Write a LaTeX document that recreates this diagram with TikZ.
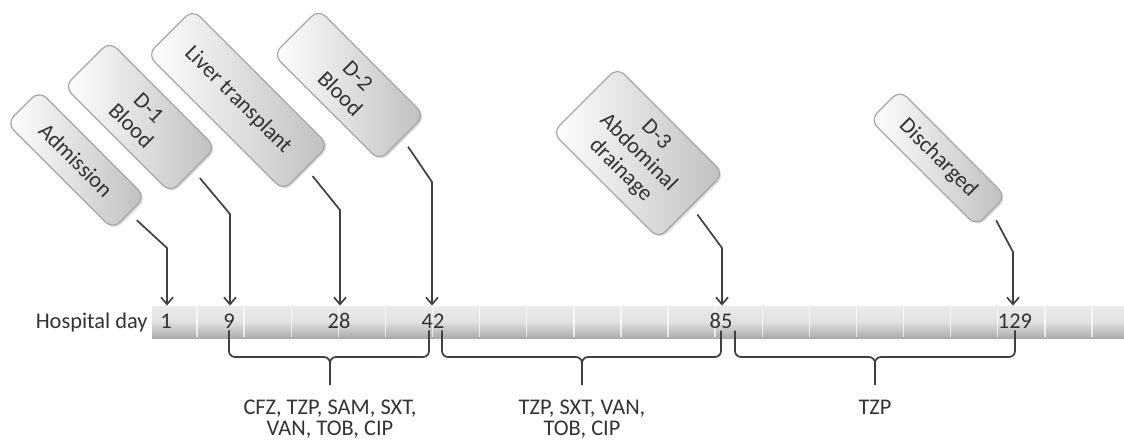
\documentclass[tikz,border=0pt]{standalone}
\usepackage{fontspec}
\setmainfont{Carlito}
\usetikzlibrary{arrows.meta, shadows}

\begin{document}
\begin{tikzpicture}[
        x=0.5pt, y=-0.5pt,
        font=\fontsize{11.2}{10.5}\selectfont,
        >={Straight Barb[length=3.5pt, width=6pt]},
        event/.style={
            rectangle, rounded corners=5pt, draw=black!35, line width=0.6pt,
            left color=white, right color=black!25,
            drop shadow={shadow xshift=0.8pt, shadow yshift=-0.8pt, opacity=0.3},
            rotate=-45, align=center, text=black!80,
            font=\fontsize{11.2}{12.5}\selectfont,
            minimum width=75pt, inner sep=2pt
        },
        link/.style={->, line width=0.85pt, draw=black!75, shorten <=5pt},
        brace/.style={line width=0.85pt, draw=black!75, rounded corners=3pt},
        day/.style={text=black!80, inner sep=1pt, anchor=base},
        drugs/.style={align=center, text=black!80, anchor=north, inner xsep=2pt, inner ysep=7.5pt},
        bar/.style={
            rectangle, minimum width=486pt, minimum height=16pt, inner sep=0pt,
            top color=black!8, bottom color=black!33, middle color=black!12
        },
        sep/.style={draw=white, line width=0.7pt, opacity=0.7}
    ]

    \useasboundingbox (0,0) rectangle (1124,440);

    % --- Timeline ---
    \node[bar] (bar) at (638,322) {};
    \foreach \k in {0,...,19}
        \draw[sep] (197+47.1*\k,307) -- ++(0,30);

    \node[day, anchor=base east] (hday) at (150,328) {Hospital day};
    \node[day] (d1) at (166,328) {1};
    \node[day] (d9) at (229,328) {9};
    \node[day] (d28) at (339,328) {28};
    \node[day] (d42) at (433,328) {42};
    \node[day] (d85) at (721,328) {85};
    \node[day] (d129) at (1015,328) {129};

    % --- Events ---
    \node[event, minimum height=23pt] (admission) at (76,160) {Admission};
    \node[event, minimum height=32pt] (blood1) at (140,117) {D-1\\Blood};
    \node[event, minimum height=32pt, minimum width=96pt] (liver) at (238,100) {Liver transplant};
    \node[event, minimum height=32pt] (blood2) at (349,85) {D-2\\Blood};
    \node[event, minimum height=46pt] (drain) at (638,153) {D-3\\Abdominal\\drainage};
    \node[event, minimum height=21pt] (discharge) at (938,158) {Discharged};

    \coordinate (k1) at (167,248);
    \coordinate (k2) at (230,214);
    \coordinate (k3) at (340,210);
    \coordinate (k4) at (432,182);
    \coordinate (k5) at (722,248);
    \coordinate (k6) at (1013,252);

    \draw[link] (admission.east) -- (k1) -- (k1 |- bar.north);
    \draw[link] (blood1.east) -- (k2) -- (k2 |- bar.north);
    \draw[link] (liver.east) -- (k3) -- (k3 |- bar.north);
    \draw[link] (blood2.east) -- (k4) -- (k4 |- bar.north);
    \draw[link] (drain.east) -- (k5) -- (k5 |- bar.north);
    \draw[link] (discharge.east) -- (k6) -- (k6 |- bar.north);

    % --- Antibiotics ---
    \node[drugs] (drugsA) at (330,385) {CFZ, TZP, SAM, SXT,\\VAN, TOB, CIP};
    \node[drugs] (drugsB) at (582,385) {TZP, SXT, VAN,\\TOB, CIP};
    \node[drugs] (drugsC) at (875,385) {TZP};

    \coordinate (lvl) at (0,357);
    \draw[brace] (d9.south) |- (drugsA.north |- lvl) -- (drugsA.north)
        ([xshift=-2pt]d42.south) |- (drugsA.north |- lvl) -- (drugsA.north);
    \draw[brace] ([xshift=4.5pt]d42.south) |- (drugsB.north |- lvl) -- (drugsB.north)
        (d85.south) |- (drugsB.north |- lvl) -- (drugsB.north);
    \draw[brace] ([xshift=7pt]d85.south) |- (drugsC.north |- lvl) -- (drugsC.north)
        (d129.south) |- (drugsC.north |- lvl) -- (drugsC.north);

\end{tikzpicture}
\end{document}
